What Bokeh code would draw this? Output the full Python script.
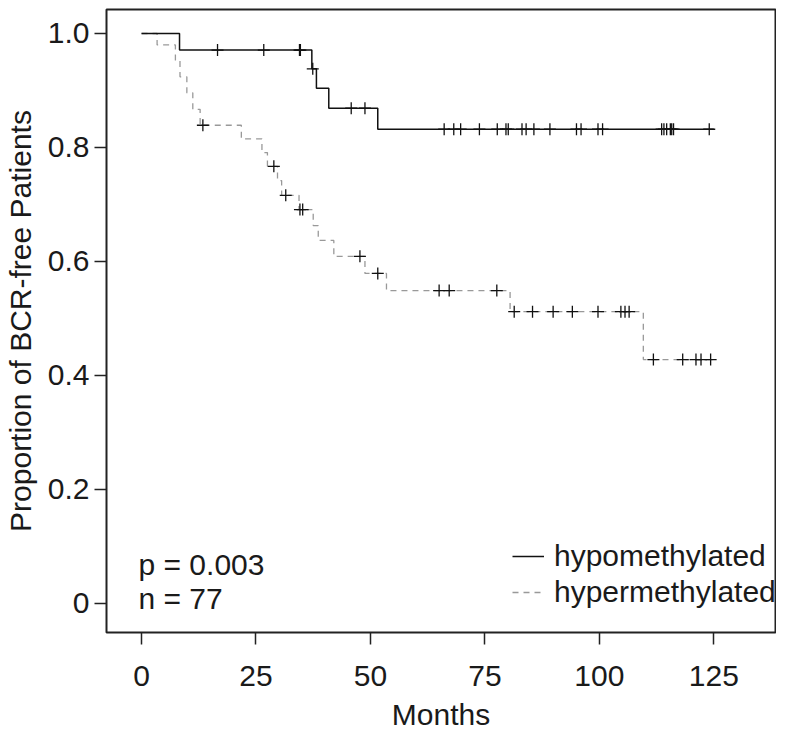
import numpy as np
from bokeh.plotting import figure
from bokeh.models import Range1d, Label, Legend, LegendItem, FixedTicker
from bokeh.embed import file_html
from bokeh.resources import INLINE

# ---------------- data ----------------
hypo_event_times = [8.3, 37.2, 38.2, 40.9, 51.6]
hypo_surv = [0.971, 0.938, 0.904, 0.869, 0.832]
hypo_censor_times = [16.6, 26.7, 34.5, 34.7, 37.4, 45.8, 48.8, 66.1, 68.2, 69.7,
                     73.8, 77.7, 79.6, 80.1, 83.1, 84.0, 85.7, 89.2, 95.0, 96.0,
                     99.7, 100.7, 113.6, 114.1, 114.7, 115.5, 115.8, 116.2, 124.0]
hypo_end = 125.0

hyper_event_times = [3.4, 7.4, 8.4, 9.9, 11.2, 12.8, 21.8, 26.3, 27.5, 29.7, 30.6,
                     34.4, 37.5, 38.6, 42.0, 48.8, 53.5, 80.5, 109.6]
hyper_surv = [0.980, 0.952, 0.924, 0.896, 0.867, 0.839, 0.815, 0.791, 0.767, 0.742,
              0.716, 0.691, 0.663, 0.637, 0.609, 0.579, 0.549, 0.512, 0.428]
hyper_censor_times = [13.4, 28.9, 31.5, 34.6, 35.2, 47.7, 51.6, 65.0, 67.2, 77.6,
                      81.4, 85.4, 89.9, 94.1, 99.7, 104.7, 105.6, 106.5, 111.8,
                      118.2, 121.1, 122.2, 124.3]
hyper_end = 125.4

x_ticks = [0, 25, 50, 75, 100, 125]
y_ticks = [0, 0.2, 0.4, 0.6, 0.8, 1.0]
y_tick_labels = ["0", "0.2", "0.4", "0.6", "0.8", "1.0"]
legend_labels = ["hypomethylated", "hypermethylated"]
annot_texts = ["p = 0.003", "n = 77"]


def step_xy(times, surv, end):
    xs = [0.0] + list(times) + [end]
    ys = [1.0] + list(surv) + [surv[-1]]
    return xs, ys


def censor_y(times, surv, ctimes):
    levels = np.array([1.0] + list(surv))
    idx = np.searchsorted(np.array(times), np.array(ctimes), side="right")
    return levels[idx]


FONT = "Liberation Sans"
INK = "#1a1a1a"
FS = "30px"

p = figure(width=776, height=734, output_backend="svg", toolbar_location=None,
           x_range=Range1d(-7.65, 138.47), y_range=Range1d(-0.0509, 1.0421),
           min_border_left=97, min_border_right=1, min_border_top=9,
           min_border_bottom=102)
p.xgrid.visible = False
p.ygrid.visible = False
p.outline_line_color = "#222222"
p.outline_line_width = 2
p.background_fill_color = "white"
p.border_fill_color = "white"

hx, hy = step_xy(hyper_event_times, hyper_surv, hyper_end)
r_hyper = p.step(hx, hy, mode="after", line_color="#999999", line_width=1.3,
                 line_dash="6 5")
ox, oy = step_xy(hypo_event_times, hypo_surv, hypo_end)
r_hypo = p.step(ox, oy, mode="after", line_color="#111111", line_width=1.5)

p.scatter(hyper_censor_times, censor_y(hyper_event_times, hyper_surv, hyper_censor_times),
          marker="cross", size=12, line_color="#111111", line_width=1.3)
p.scatter(hypo_censor_times, censor_y(hypo_event_times, hypo_surv, hypo_censor_times),
          marker="cross", size=12, line_color="#111111", line_width=1.3)

for ax in (p.xaxis[0], p.yaxis[0]):
    ax.axis_line_color = None
    ax.major_tick_line_color = "#222222"
    ax.major_tick_line_width = 1.5
    ax.major_tick_out = 12
    ax.major_tick_in = 0
    ax.minor_tick_line_color = None
    ax.major_label_text_font = FONT
    ax.major_label_text_font_size = FS
    ax.major_label_text_color = INK
    ax.axis_label_text_font = FONT
    ax.axis_label_text_font_size = FS
    ax.axis_label_text_font_style = "normal"
    ax.axis_label_text_color = INK

p.xaxis.ticker = FixedTicker(ticks=x_ticks)
p.yaxis.ticker = FixedTicker(ticks=y_ticks)
p.yaxis.major_label_overrides = {t: s for t, s in zip(y_ticks, y_tick_labels)}
p.xaxis.axis_label = "Months"
p.yaxis.axis_label = "Proportion of BCR-free Patients"
p.xaxis.major_label_standoff = 21
p.xaxis.axis_label_standoff = 9
p.yaxis.major_label_standoff = 5
p.yaxis.axis_label_standoff = 8

legend = Legend(items=[LegendItem(label=legend_labels[0], renderers=[r_hypo]),
                       LegendItem(label=legend_labels[1], renderers=[r_hyper])],
                location=(406, 23), margin=0, padding=0, spacing=2,
                glyph_width=32, label_standoff=10,
                border_line_color=None, background_fill_alpha=0,
                label_text_font=FONT, label_text_font_size=FS,
                label_text_color=INK)
p.add_layout(legend)

for txt, yy in zip(annot_texts, [68, 34]):
    p.add_layout(Label(x=32, y=yy, x_units="screen", y_units="screen", text=txt,
                       text_baseline="middle", text_font=FONT,
                       text_font_size=FS, text_color=INK))

open("out.html", "w").write(file_html(p, INLINE))
